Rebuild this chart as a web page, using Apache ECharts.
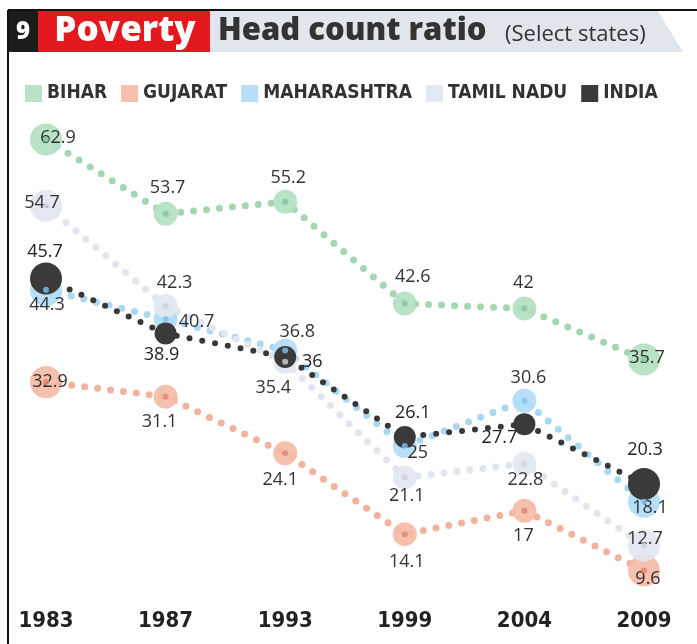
<!DOCTYPE html>
<html>
<head>
<meta charset="utf-8">
<script src="https://cdn.jsdelivr.net/npm/echarts@6/dist/echarts.min.js"></script>
<style>
  html, body { margin: 0; padding: 0; background: #ffffff; }
  #chart { width: 697px; height: 644px; }
</style>
</head>
<body>
<div id="chart"></div>
<script>
// Survey years and head count ratio (% of population below poverty line)
const years = ['1983', '1987', '1993', '1999', '2004', '2009'];
const bihar = [62.9, 53.7, 55.2, 42.6, 42, 35.7];
const gujarat = [32.9, 31.1, 24.1, 14.1, 17, 9.6];
const maharashtra = [44.3, 40.7, 36.8, 25, 30.6, 18.1];
const tamilNadu = [54.7, 42.3, 35.4, 21.1, 22.8, 12.7];
const india = [45.7, 38.9, 36, 26.1, 27.7, 20.3];

// Per-series look: dotted line colour, marker halo, marker core, value label nudges
const looks = {
  'BIHAR':       { dots: '#a4d6b4', halo: '#b3dfc1', core: '#86c69a', labelOff: [[12,-2],[2,-26],[3,-24],[8,-27],[-1,-26],[3,-2]] },
  'GUJARAT':     { dots: '#f1b39d', halo: '#f4bba6', core: '#e3826a', labelOff: [[4,0],[-6,25],[-5,27],[2,28],[-1,25],[4,8]] },
  'MAHARASHTRA': { dots: '#a9d8f4', halo: '#b1ddf7', core: '#7cc2ee', labelOff: [[1,15],[31,3],[12,-19],[13,7],[4,-23],[6,6]] },
  'TAMIL NADU':  { dots: '#e1e5ee', halo: '#e2e7f0', core: '#cbd2e2', labelOff: [[-4,-3],[9,-23],[-12,26],[2,18],[1,16],[1,-7]] },
  'INDIA':       { dots: '#383838', halo: '#3a3a3a', core: '#2e2e2e', labelOff: [[-1,-27],[-4,21],[27,5],[8,-24],[-25,14],[1,-34]] }
};

const seriesValues = [
  ['BIHAR', bihar],
  ['GUJARAT', gujarat],
  ['MAHARASHTRA', maharashtra],
  ['TAMIL NADU', tamilNadu],
  ['INDIA', india]
];

const last = years.length - 1;
const series = [];
seriesValues.forEach(([name, values]) => {
  const lk = looks[name];
  const isIndia = name === 'INDIA';
  series.push({
    name: name,
    type: 'line',
    z: 2,
    symbol: 'circle',
    symbolSize: (v, p) => (p.dataIndex === 0 || p.dataIndex === last) ? 32 : (isIndia ? 22 : 24),
    itemStyle: { color: lk.halo, opacity: isIndia ? 1 : 0.92 },
    lineStyle: { color: lk.dots, width: isIndia ? 6 : 7, type: [0, 13], cap: 'round' },
    label: {
      show: true,
      position: 'inside',
      color: '#222222',
      fontFamily: 'Open Sans',
      fontSize: 18,
      formatter: p => String(p.value)
    },
    labelLayout: p => ({
      dx: lk.labelOff[p.dataIndex][0],
      dy: lk.labelOff[p.dataIndex][1],
      hideOverlap: false
    }),
    emphasis: { disabled: true },
    data: values.slice()
  });
  if (!isIndia) {
    series.push({
      name: name + '-core',
      type: 'scatter',
      z: 3,
      symbol: 'circle',
      symbolSize: 6,
      silent: true,
      itemStyle: { color: lk.core },
      data: values.slice()
    });
  }
});

const chart = echarts.init(document.getElementById('chart'), null, { renderer: 'canvas' });
chart.setOption({
  backgroundColor: '#ffffff',
  animation: false,
  grid: { left: 46, right: 53, top: 82, bottom: 12 },
  legend: {
    data: seriesValues.map(s => s[0]),
    left: 20,
    top: 79,
    icon: 'rect',
    itemWidth: 17,
    itemHeight: 17,
    itemGap: 14,
    selectedMode: false,
    textStyle: {
      color: '#333333',
      fontFamily: 'DejaVu Sans Condensed, sans-serif',
      fontWeight: 'bold',
      fontSize: 19
    }
  },
  xAxis: {
    type: 'category',
    data: years,
    boundaryGap: false,
    axisLine: { show: false },
    axisTick: { show: false },
    splitLine: { show: false },
    axisLabel: {
      inside: true,
      margin: 0,
      color: '#222222',
      fontFamily: 'DejaVu Sans Condensed, sans-serif',
      fontWeight: 'bold',
      fontSize: 22
    }
  },
  yAxis: {
    type: 'value',
    min: 2,
    max: 70,
    show: false,
    splitLine: { show: false }
  },
  graphic: [
    // frame lines
    { type: 'line', shape: { x1: 8, y1: 10, x2: 697, y2: 10 }, style: { stroke: '#111111', lineWidth: 2 }, z: 10 },
    { type: 'line', shape: { x1: 8, y1: 10, x2: 8, y2: 644 }, style: { stroke: '#111111', lineWidth: 2 }, z: 10 },
    // header band
    { type: 'polygon', shape: { points: [[210, 11], [658, 11], [683, 52], [210, 52]] }, style: { fill: '#e1e5ec' }, z: 5 },
    { type: 'rect', shape: { x: 8, y: 11, width: 30, height: 41 }, style: { fill: '#1c1c1c' }, z: 6 },
    { type: 'rect', shape: { x: 38, y: 11, width: 172, height: 41 }, style: { fill: '#e3191f' }, z: 6 },
    { type: 'text', x: 23, y: 32, style: { text: '9', fill: '#ffffff', font: '800 24px "Open Sans"', align: 'center', verticalAlign: 'middle' }, z: 7 },
    { type: 'text', x: 125, y: 31, style: { text: 'Poverty', fill: '#ffffff', font: '800 35px "Open Sans"', align: 'center', verticalAlign: 'middle' }, z: 7 },
    { type: 'text', x: 218, y: 31, style: { text: 'Head count ratio', fill: '#333333', font: '800 31px "Open Sans"', align: 'left', verticalAlign: 'middle' }, z: 7 },
    { type: 'text', x: 505, y: 35, style: { text: '(Select states)', fill: '#333333', font: '22px "Open Sans"', align: 'left', verticalAlign: 'middle' }, z: 7 }
  ],
  series: series
});
</script>
</body>
</html>
